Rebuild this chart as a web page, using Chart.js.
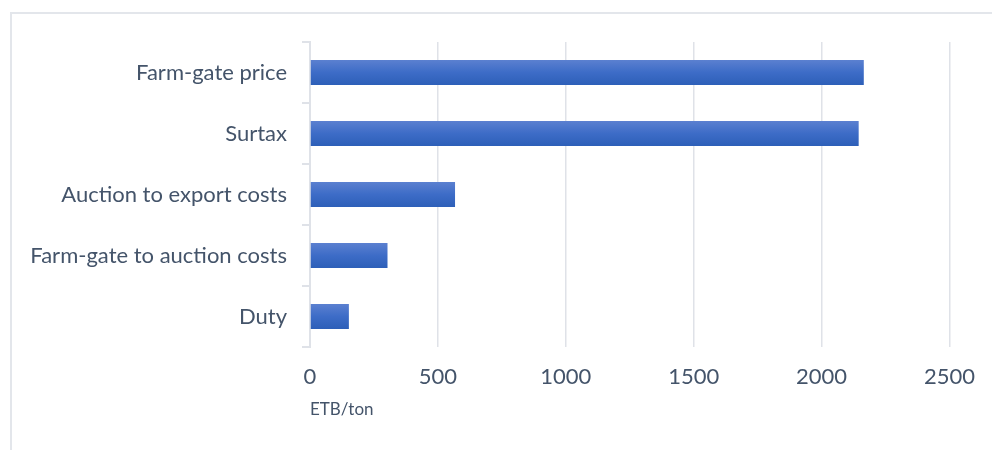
<!DOCTYPE html>
<html>
<head>
<meta charset="utf-8">
<script src="https://cdn.jsdelivr.net/npm/chart.js@4"></script>
<style>
  html, body { margin: 0; padding: 0; background: #fff; }
  #wrap { position: relative; width: 992px; height: 450px; overflow: hidden; }
  #frame { position: absolute; left: 10px; top: 12px; width: 1000px; height: 460px;
           border-left: 2px solid #e3e6eb; border-top: 2px solid #e3e6eb; box-sizing: border-box; }
  canvas { position: absolute; left: 0; top: 0; }
</style>
</head>
<body>
<div id="wrap">
  <div id="frame"></div>
  <canvas id="costChart" width="992" height="450"></canvas>
</div>
<script>
const categories = ["Farm-gate price", "Surtax", "Auction to export costs", "Farm-gate to auction costs", "Duty"];
const values = [2165, 2145, 567, 303, 152];
const xTicks = [0, 500, 1000, 1500, 2000, 2500];
const unitLabel = "ETB/ton";

const textColor = "#44546a";
const lineColor = "#dfe2e8";

// vertical gradient on each bar, light on top, darker below
const barGradient = {
    id: "barGradient",
    beforeDatasetsDraw(chart) {
        const ctx = chart.ctx;
        chart.getDatasetMeta(0).data.forEach(bar => {
            const top = bar.y - bar.height / 2;
            const g = ctx.createLinearGradient(0, top, 0, top + bar.height);
            g.addColorStop(0, "#5b80d0");
            g.addColorStop(0.5, "#3d6cc7");
            g.addColorStop(1, "#2d5fb8");
            bar.options = Object.assign({}, bar.options, { backgroundColor: g });
        });
    }
};

new Chart(document.getElementById("costChart"), {
    type: "bar",
    data: {
        labels: categories,
        datasets: [{
            data: values,
            backgroundColor: "#3d6cc7",
            borderWidth: 0,
            barPercentage: 0.41,
            categoryPercentage: 1
        }]
    },
    options: {
        indexAxis: "y",
        responsive: false,
        animation: false,
        layout: { padding: { top: 42, right: 36, bottom: 30, left: 0 } },
        plugins: { legend: { display: false }, tooltip: { enabled: false } },
        scales: {
            x: {
                min: 0,
                max: 2500,
                afterBuildTicks: scale => { scale.ticks = xTicks.map(v => ({ value: v })); },
                afterFit: scale => { scale.height = 73; },
                border: { display: false },
                grid: { color: lineColor, lineWidth: 1.5, drawTicks: false },
                ticks: {
                    color: textColor, padding: 17, maxRotation: 0,
                    font: { family: "Lato", size: 22 },
                    callback: v => String(v)
                },
                title: {
                    display: true,
                    text: unitLabel,
                    align: "start",
                    color: textColor,
                    font: { family: "Lato", size: 17 },
                    padding: { top: 0, bottom: 0 }
                }
            },
            y: {
                afterFit: scale => { scale.width = 310; },
                border: { display: true, color: lineColor, width: 2 },
                grid: { drawOnChartArea: false, drawTicks: true, tickLength: 8, color: lineColor, lineWidth: 2, offset: true },
                ticks: { color: textColor, padding: 15, font: { family: "Lato", size: 22 } }
            }
        }
    },
    plugins: [barGradient]
});
</script>
</body>
</html>
